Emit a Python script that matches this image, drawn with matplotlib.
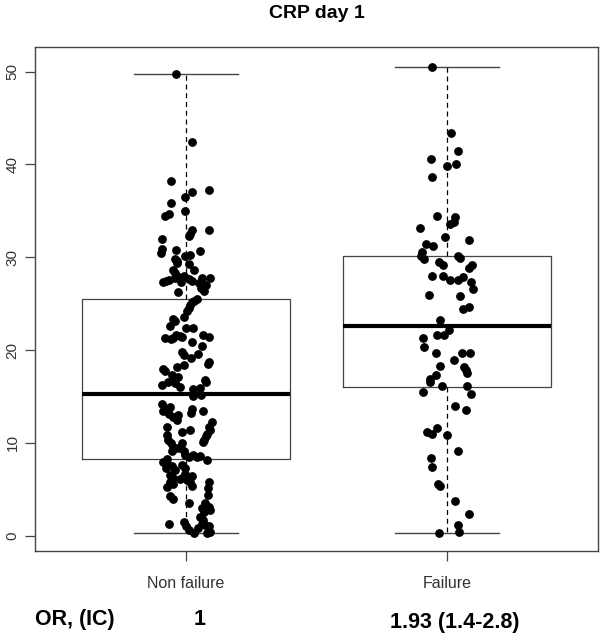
import numpy as np
import matplotlib
matplotlib.use('Agg')
import matplotlib.pyplot as plt

plt.rcParams['font.family'] = ['Liberation Sans', 'DejaVu Sans']

# Groups and box statistics
groups = ['Non failure', 'Failure']
whislo = [0.3, 0.3]
q1 = [8.3, 16.0]
med = [15.3, 22.6]
q3 = [25.5, 30.1]
whishi = [49.7, 50.5]

# Jittered CRP values (value, horizontal jitter offset)
nonfail_vals = [49.7, 42.4, 38.2, 37.3, 37.0, 36.5, 35.8, 35.0, 34.7, 34.4,
                32.9, 32.9, 32.5, 32.3, 32.0, 30.9, 30.5, 30.8, 30.7, 30.1,
                30.2, 29.8, 29.6, 29.3, 29.4, 28.6, 28.3, 28.6, 28.0, 27.8,
                28.0, 27.7, 27.4, 27.8, 27.8, 27.4, 27.3, 27.6, 27.3, 27.2,
                26.9, 27.0, 26.7, 26.4, 26.3, 25.5, 25.3, 25.2, 24.9, 24.5,
                24.2, 23.6, 23.3, 22.6, 23.1, 22.4, 22.4, 21.3, 21.3, 21.6,
                21.5, 21.4, 21.2, 20.9, 21.6, 21.4, 20.4, 19.8, 19.5, 19.6,
                19.2, 18.7, 18.5, 18.2, 18.4, 18.0, 17.7, 17.3, 17.1, 17.1,
                16.8, 16.2, 16.6, 16.4, 16.0, 15.8, 15.9, 16.6, 15.1, 15.2,
                14.2, 13.7, 13.9, 13.4, 13.1, 12.8, 12.5, 13.0, 13.7, 13.2,
                13.4, 12.2, 11.7, 11.4, 11.7, 11.2, 11.4, 11.0, 10.7, 10.3,
                10.1, 10.9, 10.3, 10.0, 9.6, 10.0, 9.4, 9.1, 8.7, 8.5,
                9.4, 9.1, 8.7, 8.5, 8.6, 8.2, 8.3, 7.9, 7.6, 7.3,
                7.5, 7.1, 6.5, 6.2, 7.6, 7.3, 6.4, 6.1, 6.7, 6.0,
                6.4, 5.8, 5.4, 5.8, 5.6, 5.3, 5.8, 5.1, 4.4, 4.3,
                3.9, 3.5, 3.5, 3.1, 2.8, 3.0, 2.6, 2.0, 1.7, 1.3,
                1.2, 1.0, 0.4, 1.3, 1.5, 1.0, 0.6, 0.3, 0.3, 0.8]
nonfail_jit = [-0.040, 0.022, -0.060, 0.089, 0.022, -0.003, -0.060, -0.003, -0.064, -0.082,
               0.089, 0.022, 0.015, 0.010, -0.093, -0.093, -0.097, -0.038, 0.054, -0.004,
               0.015, -0.042, -0.036, 0.009, -0.036, -0.049, -0.041, 0.031, -0.035, -0.041,
               -0.007, 0.009, 0.022, 0.061, 0.093, -0.077, -0.087, -0.064, -0.019, 0.050,
               0.063, 0.077, 0.056, 0.069, -0.032, 0.041, 0.031, 0.023, 0.015, 0.009,
               0.003, -0.010, -0.049, -0.061, -0.042, 0.000, 0.028, -0.082, -0.049, -0.038,
               -0.023, -0.017, -0.059, 0.022, 0.063, 0.086, 0.060, -0.017, -0.010, 0.047,
               0.018, 0.086, 0.082, -0.036, -0.008, -0.087, -0.081, -0.055, -0.049, -0.030,
               0.073, -0.093, -0.068, -0.042, -0.023, 0.026, 0.054, 0.076, 0.026, 0.058,
               -0.093, -0.081, -0.061, -0.087, -0.064, -0.051, -0.036, -0.030, 0.022, 0.018,
               0.066, 0.099, 0.086, 0.092, -0.074, -0.017, 0.015, 0.079, 0.077, 0.069,
               0.064, -0.074, -0.068, -0.059, -0.051, -0.017, -0.023, -0.010, -0.004, 0.009,
               -0.040, -0.055, 0.028, 0.041, 0.054, 0.079, -0.074, -0.087, -0.068, -0.077,
               -0.055, -0.042, -0.061, -0.049, -0.017, -0.004, -0.010, -0.023, -0.004, 0.003,
               0.022, 0.015, 0.022, -0.061, -0.049, -0.072, 0.086, 0.083, 0.082, -0.061,
               -0.051, 0.009, 0.073, 0.086, 0.092, 0.060, 0.069, 0.054, 0.066, 0.060,
               0.073, 0.086, 0.092, -0.064, -0.010, 0.000, 0.009, 0.031, 0.079, 0.047]

fail_vals = [50.5, 43.4, 41.5, 40.6, 39.8, 40.1, 38.7, 34.5, 34.3, 33.6,
             33.8, 33.2, 32.2, 31.9, 31.4, 31.2, 30.6, 30.1, 29.8, 30.1,
             29.9, 29.5, 29.2, 29.2, 28.8, 28.0, 28.0, 27.6, 27.5, 27.9,
             27.3, 26.6, 25.9, 25.8, 24.4, 24.6, 23.2, 22.2, 21.6, 21.6,
             21.3, 20.3, 19.7, 19.7, 19.7, 18.9, 18.2, 17.9, 17.5, 18.3,
             17.3, 16.9, 16.6, 16.1, 15.5, 16.1, 15.3, 14.0, 13.5, 11.2,
             11.0, 11.6, 10.9, 9.1, 8.4, 7.4, 5.6, 5.4, 3.7, 2.3,
             1.1, 0.4, 0.3]
fail_jit = [-0.056, 0.017, 0.043, -0.061, 0.001, 0.037, -0.056, -0.036, 0.033, 0.014,
            0.027, -0.101, -0.008, 0.084, -0.079, -0.053, -0.095, -0.099, -0.088, 0.043,
            0.049, -0.031, -0.015, 0.095, 0.084, -0.056, -0.015, 0.014, 0.042, 0.061,
            0.091, 0.100, -0.069, 0.050, 0.061, 0.084, -0.028, 0.010, -0.012, -0.037,
            -0.091, -0.088, -0.040, 0.059, 0.088, 0.027, 0.065, 0.074, 0.078, -0.028,
            -0.043, -0.063, -0.063, -0.018, -0.091, 0.078, 0.093, 0.031, 0.072, -0.076,
            -0.056, -0.036, 0.001, 0.042, -0.061, -0.056, -0.033, -0.028, 0.031, 0.084,
            0.042, 0.046, -0.031]

or_labels = ['1', '1.93 (1.4-2.8)']

fig = plt.figure(figsize=(6, 6.39), dpi=100)
ax = fig.add_axes([35/600, 88/639, 563/600, 504/639])

stats = []
for i in range(2):
    stats.append(dict(whislo=whislo[i], q1=q1[i], med=med[i], q3=q3[i],
                      whishi=whishi[i], fliers=[]))

ax.bxp(stats, positions=[1, 2], widths=0.8, capwidths=0.4, showfliers=False,
       boxprops=dict(color='#444444', lw=0.9),
       medianprops=dict(color='black', lw=3, solid_capstyle='butt'),
       whiskerprops=dict(color='black', lw=0.9, linestyle=(0, (4, 3))),
       capprops=dict(color='#444444', lw=1.0))

ax.plot(1 + np.array(nonfail_jit), nonfail_vals, 'o', color='black', ms=5.3, zorder=5)
ax.plot(2 + np.array(fail_jit), fail_vals, 'o', color='black', ms=5.3, zorder=5)

ax.set_xlim(0.42, 2.58)
ax.set_ylim(-1.65, 52.66)
ax.set_yticks([0, 10, 20, 30, 40, 50])
ax.set_xticks([1, 2])
ax.set_xticklabels(groups)
ax.tick_params(axis='y', labelrotation=90, length=7, width=0.9, color='#444444',
               labelcolor='#333333', labelsize=11, pad=4)
ax.tick_params(axis='x', length=7, width=0.9, color='#444444',
               labelcolor='#333333', labelsize=11.5, pad=11)
for lab in ax.get_yticklabels():
    lab.set_va('center')
for sp in ax.spines.values():
    sp.set_color('#444444')
    sp.set_linewidth(1.0)

fig.text(317/600, 1 - 13/639, 'CRP day 1', ha='center', va='center',
         fontsize=14, fontweight='bold')
fig.text(35/600, 1 - 619/639, 'OR, (IC)', ha='left', va='center',
         fontsize=15.5, fontweight='bold')
ax.text(1.05, -0.135, or_labels[0], transform=ax.get_xaxis_transform(),
        ha='center', va='center', fontsize=15.5, fontweight='bold')
ax.text(2.03, -0.142, or_labels[1], transform=ax.get_xaxis_transform(),
        ha='center', va='center', fontsize=15.5, fontweight='bold')

fig.savefig('out.png', dpi=100)
